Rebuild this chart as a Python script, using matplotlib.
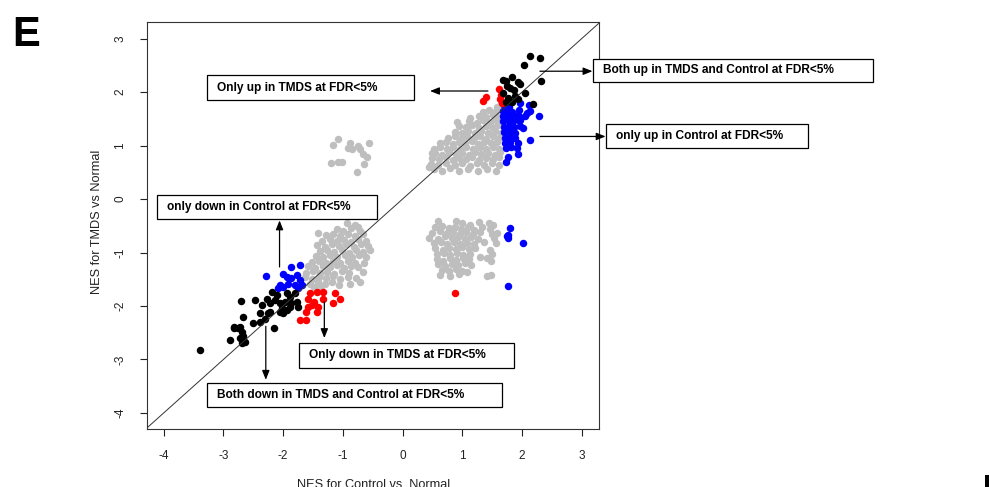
import numpy as np
import matplotlib
matplotlib.use("Agg")
import matplotlib.pyplot as plt
from matplotlib.patches import Rectangle

plt.rcParams['font.family'] = ['Liberation Sans', 'DejaVu Sans']

# ---- data (NES values) ----
# grey: not significant gene sets
grey_pts = [
    # upper-right cloud
    (0.52, 0.56), (0.66, 0.53), (0.80, 0.58), (0.95, 0.52), (1.10, 0.56), (1.26, 0.53), (1.42, 0.57), (1.57, 0.52),
    (0.47, 0.66), (0.60, 0.63), (0.73, 0.68), (0.87, 0.64), (1.00, 0.67), (1.13, 0.62), (1.24, 0.68), (1.36, 0.64),
    (1.49, 0.67), (1.61, 0.63),
    (0.50, 0.76), (0.61, 0.74), (0.72, 0.78), (0.84, 0.73), (0.95, 0.77), (1.06, 0.74), (1.17, 0.78), (1.28, 0.73),
    (1.39, 0.77), (1.51, 0.74), (1.62, 0.78),
    (0.54, 0.86), (0.66, 0.83), (0.77, 0.88), (0.89, 0.84), (1.00, 0.87), (1.11, 0.83), (1.21, 0.88), (1.32, 0.84),
    (1.43, 0.87), (1.54, 0.83), (1.63, 0.88),
    (0.52, 0.94), (0.63, 0.97), (0.74, 0.93), (0.85, 0.97), (0.96, 0.94), (1.07, 0.98), (1.18, 0.93), (1.29, 0.97),
    (1.40, 0.94), (1.51, 0.98), (1.61, 0.94),
    (0.63, 1.04), (0.73, 1.07), (0.84, 1.03), (0.95, 1.07), (1.05, 1.04), (1.16, 1.08), (1.27, 1.03), (1.37, 1.07),
    (1.48, 1.04), (1.58, 1.07),
    (0.76, 1.14), (0.87, 1.17), (0.98, 1.13), (1.08, 1.17), (1.19, 1.14), (1.30, 1.18), (1.40, 1.13), (1.51, 1.17),
    (1.62, 1.14),
    (0.88, 1.26), (1.00, 1.23), (1.10, 1.27), (1.21, 1.24), (1.32, 1.28), (1.43, 1.23), (1.54, 1.27), (1.64, 1.24),
    (0.95, 1.37), (1.06, 1.34), (1.17, 1.38), (1.28, 1.33), (1.39, 1.37), (1.50, 1.34), (1.60, 1.38),
    (0.91, 1.44), (1.12, 1.46), (1.24, 1.43), (1.35, 1.47), (1.46, 1.44), (1.57, 1.47),
    (1.13, 1.51), (1.28, 1.56), (1.40, 1.53), (1.52, 1.57), (1.62, 1.54),
    (1.35, 1.62), (1.45, 1.66), (1.56, 1.64), (1.64, 1.68), (1.58, 1.73), (1.64, 1.77),
    (0.44, 0.60), (0.49, 0.87),
    # small group upper middle
    (-1.08, 1.12), (-1.16, 1.01), (-0.88, 1.05), (-0.91, 0.95), (-0.85, 0.93), (-0.74, 0.99), (-0.71, 0.93),
    (-0.57, 1.04), (-0.66, 0.85), (-0.60, 0.79), (-1.19, 0.68), (-1.08, 0.69), (-1.02, 0.70), (-0.77, 0.51),
    (-0.64, 0.65),
    # lower-left cloud
    (-0.93, -0.45), (-0.80, -0.48), (-0.74, -0.52),
    (-1.10, -0.56), (-0.99, -0.59), (-0.87, -0.55), (-0.72, -0.60),
    (-1.41, -0.64), (-1.28, -0.68), (-1.16, -0.65), (-1.04, -0.69), (-0.92, -0.66), (-0.80, -0.70), (-0.67, -0.66),
    (-1.35, -0.78), (-1.22, -0.75), (-1.10, -0.79), (-0.98, -0.76), (-0.86, -0.80), (-0.74, -0.75), (-0.62, -0.79),
    (-1.43, -0.86), (-1.30, -0.89), (-1.18, -0.85), (-1.06, -0.88), (-0.94, -0.84), (-0.82, -0.89), (-0.70, -0.85),
    (-0.58, -0.88),
    (-1.38, -0.98), (-1.26, -0.95), (-1.14, -0.99), (-1.02, -0.96), (-0.90, -1.00), (-0.78, -0.95), (-0.66, -0.99),
    (-0.54, -0.95),
    (-1.45, -1.06), (-1.33, -1.09), (-1.21, -1.05), (-1.09, -1.08), (-0.97, -1.04), (-0.85, -1.09), (-0.73, -1.05),
    (-0.61, -1.08),
    (-1.52, -1.18), (-1.40, -1.15), (-1.28, -1.19), (-1.16, -1.16), (-1.04, -1.20), (-0.92, -1.15), (-0.80, -1.19),
    (-0.65, -1.20),
    (-1.58, -1.26), (-1.46, -1.29), (-1.34, -1.25), (-1.22, -1.28), (-1.10, -1.24), (-0.98, -1.29), (-0.86, -1.25),
    (-0.74, -1.28),
    (-1.62, -1.38), (-1.50, -1.35), (-1.38, -1.39), (-1.26, -1.36), (-1.14, -1.40), (-1.02, -1.35), (-0.90, -1.39),
    (-0.66, -1.36),
    (-1.64, -1.46), (-1.52, -1.49), (-1.40, -1.45), (-1.28, -1.48), (-1.16, -1.44), (-1.04, -1.49), (-0.92, -1.45),
    (-0.78, -1.48),
    (-1.55, -1.58), (-1.42, -1.55), (-1.30, -1.59), (-1.18, -1.56), (-1.06, -1.60), (-0.88, -1.58), (-0.72, -1.55),
    (-1.48, -1.65), (-1.36, -1.63),
    # right-lower cloud
    (0.60, -0.42), (0.90, -0.41), (1.00, -0.45), (1.13, -0.49), (1.28, -0.43), (1.45, -0.45), (1.52, -0.49),
    (0.55, -0.53), (0.66, -0.51), (0.78, -0.55), (0.88, -0.52), (0.98, -0.56), (1.10, -0.53), (1.20, -0.57),
    (1.33, -0.52), (1.47, -0.56), (1.58, -0.64),
    (0.50, -0.63), (0.62, -0.60), (0.74, -0.64), (0.85, -0.61), (0.96, -0.65), (1.07, -0.62), (1.18, -0.66),
    (1.30, -0.61), (1.50, -0.65),
    (0.45, -0.72), (0.60, -0.74), (0.71, -0.70), (0.82, -0.73), (0.93, -0.71), (1.04, -0.75), (1.15, -0.71),
    (1.26, -0.74), (1.53, -0.73),
    (0.52, -0.83), (0.64, -0.80), (0.75, -0.84), (0.86, -0.81), (0.97, -0.85), (1.08, -0.82), (1.20, -0.84),
    (1.36, -0.80), (1.56, -0.82),
    (0.55, -0.92), (0.67, -0.95), (0.78, -0.91), (0.89, -0.94), (1.00, -0.90), (1.11, -0.94), (1.22, -0.91),
    (1.47, -0.95),
    (0.58, -1.03), (0.69, -1.00), (0.80, -1.04), (0.91, -1.01), (1.02, -1.05), (1.13, -1.02), (1.30, -1.08),
    (1.41, -1.11), (1.50, -1.02),
    (0.57, -1.12), (0.68, -1.15), (0.79, -1.11), (0.90, -1.14), (1.01, -1.10), (1.12, -1.13), (1.48, -1.15),
    (0.60, -1.22), (0.71, -1.25), (0.82, -1.21), (0.93, -1.24), (1.04, -1.20), (1.15, -1.23),
    (0.66, -1.32), (0.78, -1.35), (0.90, -1.31), (1.00, -1.34), (1.08, -1.36),
    (0.63, -1.42), (0.80, -1.44), (0.95, -1.40), (1.41, -1.44), (1.48, -1.42),
]

# blue: significant only in Control
blue_pts = [
    (1.70, 1.75), (1.78, 1.72), (1.68, 1.65), (1.76, 1.66), (1.84, 1.63), (1.95, 1.67), (1.68, 1.55), (1.76, 1.57),
    (1.85, 1.54), (1.93, 1.58), (2.05, 1.56), (1.68, 1.45), (1.76, 1.47), (1.84, 1.44), (1.93, 1.48), (1.70, 1.35),
    (1.78, 1.37), (1.86, 1.34), (1.97, 1.36), (1.70, 1.25), (1.78, 1.27), (1.88, 1.24), (1.72, 1.15), (1.80, 1.17),
    (1.88, 1.14), (1.72, 1.05), (1.80, 1.07), (1.73, 0.95), (1.82, 0.97),
    (1.97, 1.79), (2.11, 1.76), (2.08, 1.60), (2.29, 1.55), (2.14, 1.65), (1.97, 1.48), (2.02, 1.32), (2.14, 1.10),
    (1.94, 1.04), (1.91, 0.95), (1.94, 0.85), (1.77, 0.79), (1.73, 0.70),
    (1.80, -0.54), (1.77, -0.67), (1.77, -0.73), (1.75, -0.70), (2.01, -0.82), (1.76, -1.62),
    (-1.86, -1.27), (-1.72, -1.23), (-2.29, -1.44), (-2.00, -1.40), (-1.94, -1.45), (-1.86, -1.48), (-1.77, -1.42),
    (-1.72, -1.51), (-1.80, -1.61), (-2.05, -1.61), (-2.00, -1.64), (-1.91, -1.58), (-1.69, -1.61), (-1.75, -1.67),
    (-2.08, -1.67),
]

# red: significant only in TMDS
red_pts = [
    (1.40, 1.90), (1.35, 1.84), (1.62, 2.05), (1.64, 1.95), (1.63, 1.87), (1.66, 1.80),
    (0.88, -1.75),
    (-1.55, -1.76), (-1.44, -1.73), (-1.33, -1.73), (-1.13, -1.76), (-1.05, -1.86), (-1.16, -1.95), (-1.58, -1.86),
    (-1.49, -1.92), (-1.52, -1.98), (-1.58, -2.01), (-1.41, -2.01), (-1.62, -2.11), (-1.44, -2.11), (-1.71, -2.26),
    (-1.61, -2.26), (-1.33, -1.86),
]

# black: significant in both
black_pts = [
    (2.14, 2.67), (2.30, 2.63), (2.04, 2.50), (1.83, 2.29), (1.69, 2.22), (1.73, 2.20), (1.94, 2.19), (1.97, 2.15),
    (2.32, 2.21), (1.80, 2.07), (1.86, 2.04), (2.05, 1.98), (1.69, 1.98), (1.77, 1.88), (1.94, 1.87), (1.83, 1.82),
    (1.73, 1.82), (2.19, 1.77), (1.88, 1.93), (1.75, 2.12),
    (-3.39, -2.83), (-2.71, -1.90), (-2.47, -1.89), (-2.36, -1.98), (-2.27, -1.86), (-2.22, -1.95), (-2.14, -1.89),
    (-2.19, -1.73), (-2.11, -1.79), (-2.05, -1.95), (-1.97, -1.92), (-1.94, -1.76), (-1.88, -1.83), (-1.80, -1.76),
    (-1.86, -1.95), (-1.77, -1.92), (-1.75, -2.01), (-2.02, -2.04), (-2.05, -2.11), (-2.00, -2.14), (-1.94, -2.07),
    (-1.88, -2.01), (-2.22, -2.11), (-2.39, -2.14), (-2.25, -2.14), (-2.39, -2.29), (-2.51, -2.32), (-2.67, -2.21),
    (-2.83, -2.42), (-2.72, -2.39), (-2.69, -2.48), (-2.89, -2.64), (-2.72, -2.60), (-2.67, -2.57), (-2.64, -2.67),
    (-2.69, -2.70), (-2.15, -2.41), (-2.30, -2.25), (-2.83, -2.40), (-2.75, -2.42),
]

ticks = [-4, -3, -2, -1, 0, 1, 2, 3]

# ---- figure ----
fig = plt.figure(figsize=(9.89, 4.87), dpi=100)
ax = fig.add_axes([0.1486, 0.1191, 0.4571, 0.8357])

for pts, col in [(grey_pts, '#BEBEBE'), (blue_pts, '#0000FF'), (red_pts, '#FF0000'), (black_pts, '#000000')]:
    arr = np.array(pts)
    ax.scatter(arr[:, 0], arr[:, 1], s=29, c=col, linewidths=0, zorder=2)

# y = x reference line
ax.axline((0, 0), slope=1, color='#333333', lw=0.7, zorder=3)

ax.set_xlim(-4.28, 3.29)
ax.set_ylim(-4.30, 3.31)
ax.set_xticks(ticks)
ax.set_yticks(ticks)
ax.set_xticklabels([str(t) for t in ticks])
ax.set_yticklabels([str(t) for t in ticks], rotation=90, va='center')
ax.tick_params(direction='out', length=5, width=0.8, labelsize=8.5, colors='#222222', pad=10)
for sp in ax.spines.values():
    sp.set_linewidth(0.8)
    sp.set_color('#333333')

fig.text(0.098, 0.545, 'NES for TMDS vs Normal', rotation=90, ha='center', va='center',
         fontsize=9.2, color='#222222')
fig.text(0.378, 0.017, 'NES for Control vs. Normal', ha='center', va='top',
         fontsize=9.2, color='#222222')
fig.text(0.012, 0.97, 'E', fontsize=30, fontweight='bold', ha='left', va='top')

# ---- annotation boxes (left, bottom, width, height in data units) ----
boxes = [
    ('Only up in TMDS at FDR<5%', -3.27, 1.85, 3.46, 0.47),
    ('Both up in TMDS and Control at FDR<5%', 3.19, 2.19, 4.69, 0.43),
    ('only up in Control at FDR<5%', 3.41, 0.95, 3.38, 0.45),
    ('only down in Control at FDR<5%', -4.11, -0.37, 3.68, 0.44),
    ('Only down in TMDS at FDR<5%', -1.73, -3.16, 3.60, 0.47),
    ('Both down in TMDS and Control at FDR<5%', -3.27, -3.89, 4.94, 0.45),
]
for txt, x0, y0, w, h in boxes:
    ax.add_patch(Rectangle((x0, y0), w, h, fill=True, facecolor='white', edgecolor='black',
                           lw=0.9, clip_on=False, zorder=4))
    ax.text(x0 + 0.16, y0 + h / 2, txt, ha='left', va='center', fontsize=8.6,
            fontweight='bold', clip_on=False, zorder=5)

arrows = [
    ((1.43, 2.02), (0.46, 2.02)),
    ((2.30, 2.39), (3.18, 2.39)),
    ((2.30, 1.17), (3.40, 1.17)),
    ((-2.06, -1.27), (-2.06, -0.40)),
    ((-1.31, -1.92), (-1.31, -2.60)),
    ((-2.29, -2.38), (-2.29, -3.38)),
]
for start, end in arrows:
    ax.annotate('', xy=end, xytext=start, annotation_clip=False,
                arrowprops=dict(arrowstyle='-|>,head_length=0.55,head_width=0.22',
                                color='black', lw=0.9, shrinkA=0, shrinkB=0), zorder=5)

# bit of the next panel showing at the edge
fig.patches.append(Rectangle((0.9955, 0.0), 0.0045, 0.025, transform=fig.transFigure,
                             facecolor='black', edgecolor='none'))

fig.savefig('out.png', dpi=100)
